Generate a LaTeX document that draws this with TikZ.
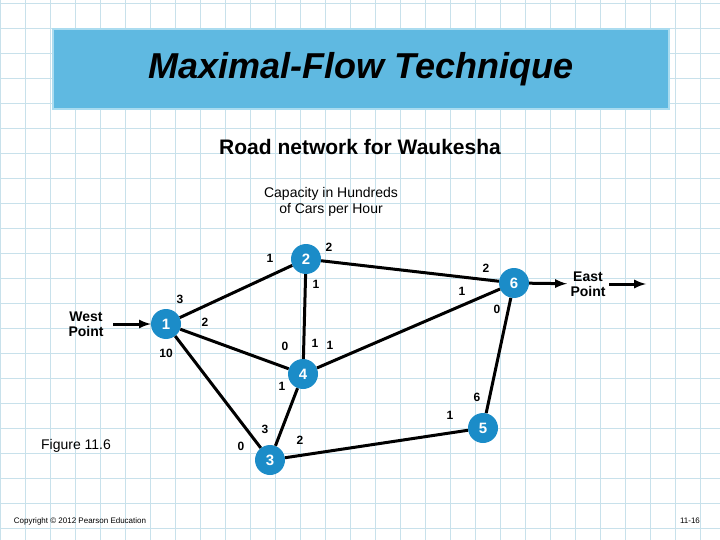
\documentclass[tikz,border=0pt]{standalone}
\usepackage{fontspec}
\setmainfont{Liberation Sans}
\begin{document}
\begin{tikzpicture}[x=1pt,y=-1pt,
  nd/.style={circle,fill=nodeblue,text=white,font=\bfseries\fontsize{15}{15}\selectfont,minimum size=30pt,inner sep=0pt},
  ed/.style={line width=3pt},
  ar/.style={line width=3pt,-latex},
  lb/.style={font=\fontsize{12}{12}\selectfont\bfseries,inner sep=0pt}]
\definecolor{nodeblue}{RGB}{27,140,200}
\definecolor{gridc}{RGB}{200,225,235}
\definecolor{titlec}{RGB}{95,185,225}
\useasboundingbox (0,0) rectangle (720,540);
\fill[white] (0,0) rectangle (720,540);
\foreach \x in {0,25,...,720} \draw[gridc,line width=0.8pt] (\x,0) -- (\x,540);
\foreach \y in {3,28,...,540} \draw[gridc,line width=0.8pt] (0,\y) -- (720,\y);
\node[draw={rgb,255:red,170;green,220;blue,240},line width=2pt,fill=titlec,minimum width=616pt,minimum height=80pt,anchor=north west,inner sep=0pt,
  font=\bfseries\itshape\fontsize{36}{36}\selectfont] (title) at (52,28) {Maximal-Flow Technique};
\node[font=\bfseries\fontsize{21}{21}\selectfont] (sub) at (360,147) {Road network for Waukesha};
\node[font=\fontsize{14}{16}\selectfont,align=center] (cap) at (331,202) {Capacity in Hundreds\\of Cars per Hour};
\node[font=\fontsize{14}{14}\selectfont] (fig) at (76,446) {Figure 11.6};
\node[font=\fontsize{8}{8}\selectfont] (copy) at (80,521) {Copyright \textcopyright\ 2012 Pearson Education};
\node[font=\fontsize{8}{8}\selectfont] (pg) at (690,521) {11-16};
\node[font=\bfseries\fontsize{14}{15}\selectfont,align=center] (west) at (86,324) {West\\Point};
\node[font=\bfseries\fontsize{14}{15}\selectfont,align=center] (east) at (588,284) {East\\Point};
\node[nd] (n1) at (166,324) {1};
\node[nd] (n2) at (306,259) {2};
\node[nd] (n3) at (270,460) {3};
\node[nd] (n4) at (303,374) {4};
\node[nd] (n5) at (483,428) {5};
\node[nd] (n6) at (514,283) {6};
\coordinate (wend) at (113,324);
\coordinate (eend) at (646,284);
\draw[ar] (wend) -- (n1);
\draw[ar] (n6) -- (east);
\draw[ar] (east) -- (eend);
\draw[ed] (n1) -- (n2);
\draw[ed] (n1) -- (n4);
\draw[ed] (n1) -- (n3);
\draw[ed] (n2) -- (n4);
\draw[ed] (n2) -- (n6);
\draw[ed] (n4) -- (n6);
\draw[ed] (n4) -- (n3);
\draw[ed] (n3) -- (n5);
\draw[ed] (n5) -- (n6);
\node[lb] (l1) at (270,258) {1};
\node[lb] (l2) at (329,247) {2};
\node[lb] (l3) at (316,284) {1};
\node[lb] (l4) at (180,299) {3};
\node[lb] (l5) at (205,322) {2};
\node[lb] (l6) at (166,353) {10};
\node[lb] (l7) at (285,346) {0};
\node[lb] (l8) at (315,343) {1};
\node[lb] (l9) at (330,345) {1};
\node[lb] (l10) at (282,386) {1};
\node[lb] (l11) at (486,268) {2};
\node[lb] (l12) at (462,291) {1};
\node[lb] (l13) at (497,309) {0};
\node[lb] (l14) at (477,397) {6};
\node[lb] (l15) at (450,415) {1};
\node[lb] (l16) at (265,429) {3};
\node[lb] (l17) at (241,446) {0};
\node[lb] (l18) at (300,440) {2};
\end{tikzpicture}
\end{document}
